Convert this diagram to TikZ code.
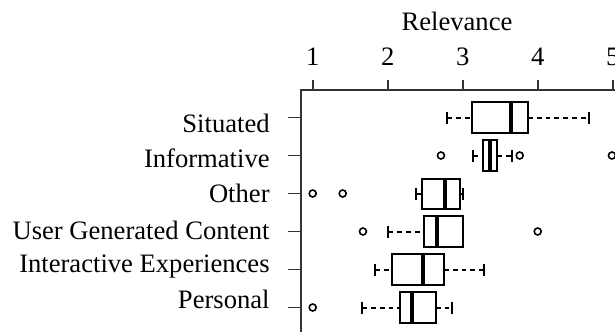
\documentclass[tikz,border=0pt]{standalone}
\usepackage{fontspec}
\setmainfont{Liberation Serif}
\begin{document}
\begin{tikzpicture}[x=0.5pt,y=-0.5pt,font=\fontsize{13.3pt}{15pt}\selectfont,
    frame/.style={line width=0.9pt,black!80},
    boxline/.style={line width=1pt},
    whisk/.style={line width=1pt,dash pattern=on 2.4pt off 2pt},
    med/.style={line width=2pt},
    outl/.style={line width=0.8pt}]
    \useasboundingbox (0,0) rectangle (615,332);
    % axis title and frame
    \node[anchor=base] (title) at (457,30) {Relevance};
    \draw[frame] (301,332) -- (301,90) -- (615,90);
    % category labels
    \node[anchor=base east,inner sep=0] (situated) at (270,132) {Situated};
    \node[anchor=base east,inner sep=0] (informative) at (270,167) {Informative};
    \node[anchor=base east,inner sep=0] (other) at (270,202) {Other};
    \node[anchor=base east,inner sep=0] (ugc) at (270,239) {User Generated Content};
    \node[anchor=base east,inner sep=0] (interactive) at (270,272.5) {Interactive Experiences};
    \node[anchor=base east,inner sep=0] (personal) at (270,308.5) {Personal};
    \draw[frame] (288,117.5) -- (301,117.5);
    \draw[frame] (288,155.5) -- (301,155.5);
    \draw[frame] (288,193.5) -- (301,193.5);
    \draw[frame] (288,231.5) -- (301,231.5);
    \draw[frame] (288,269.5) -- (301,269.5);
    \draw[frame] (288,307.5) -- (301,307.5);
    \begin{scope}[x=37.5pt,xshift=118.85pt]
        % top axis
        \draw[frame] (1,79.5) -- (1,90);
        \node[anchor=base] (t1) at (1,65.5) {1};
        \draw[frame] (2,79.5) -- (2,90);
        \node[anchor=base] (t2) at (2,65.5) {2};
        \draw[frame] (3,79.5) -- (3,90);
        \node[anchor=base] (t3) at (3,65.5) {3};
        \draw[frame] (4,79.5) -- (4,90);
        \node[anchor=base] (t4) at (4,65.5) {4};
        \draw[frame] (5,79.5) -- (5,90);
        \node[anchor=base] (t5) at (5,65.5) {5};
        % Situated
        \draw[whisk] (2.795,117.5) -- (3.13,117.5);
        \draw[whisk] (3.87,117.5) -- (4.69,117.5);
        \draw[boxline] (2.795,111.5) -- (2.795,123.5);
        \draw[boxline] (4.69,111.5) -- (4.69,123.5);
        \draw[boxline] (3.13,102) rectangle (3.87,133);
        \draw[med] (3.64,102) -- (3.64,133);
        % Informative
        \draw[whisk] (3.14,155.5) -- (3.27,155.5);
        \draw[whisk] (3.46,155.5) -- (3.66,155.5);
        \draw[boxline] (3.14,149.5) -- (3.14,161.5);
        \draw[boxline] (3.66,149.5) -- (3.66,161.5);
        \draw[boxline] (3.27,140) rectangle (3.46,171);
        \draw[med] (3.36,140) -- (3.36,171);
        \draw[outl] (2.71,155.5) circle[radius=1.75pt];
        \draw[outl] (3.76,155.5) circle[radius=1.75pt];
        \draw[outl] (4.99,155.5) circle[radius=1.75pt];
        % Other
        \draw[whisk] (2.38,193.5) -- (2.46,193.5);
        \draw[whisk] (2.96,193.5) -- (3.0,193.5);
        \draw[boxline] (2.38,187.5) -- (2.38,199.5);
        \draw[boxline] (3.0,187.5) -- (3.0,199.5);
        \draw[boxline] (2.46,178.5) rectangle (2.96,208.5);
        \draw[med] (2.76,178.5) -- (2.76,208.5);
        \draw[outl] (1.0,193.5) circle[radius=1.75pt];
        \draw[outl] (1.4,193.5) circle[radius=1.75pt];
        % User Generated Content
        \draw[whisk] (2.01,231.5) -- (2.49,231.5);
        \draw[boxline] (2.01,225.5) -- (2.01,237.5);
        \draw[boxline] (2.49,216) rectangle (3.0,247);
        \draw[med] (2.66,216) -- (2.66,247);
        \draw[outl] (1.67,231.5) circle[radius=1.75pt];
        \draw[outl] (4.0,231.5) circle[radius=1.75pt];
        % Interactive Experiences
        \draw[whisk] (1.83,269.5) -- (2.06,269.5);
        \draw[whisk] (2.75,269.5) -- (3.28,269.5);
        \draw[boxline] (1.83,263.5) -- (1.83,275.5);
        \draw[boxline] (3.28,263.5) -- (3.28,275.5);
        \draw[boxline] (2.06,254) rectangle (2.75,285);
        \draw[med] (2.47,254) -- (2.47,285);
        % Personal
        \draw[whisk] (1.66,307.5) -- (2.17,307.5);
        \draw[whisk] (2.64,307.5) -- (2.86,307.5);
        \draw[boxline] (1.66,301.5) -- (1.66,313.5);
        \draw[boxline] (2.86,301.5) -- (2.86,313.5);
        \draw[boxline] (2.17,292) rectangle (2.64,323);
        \draw[med] (2.32,292) -- (2.32,323);
        \draw[outl] (1.0,307.5) circle[radius=1.75pt];
    \end{scope}
\end{tikzpicture}
\end{document}
